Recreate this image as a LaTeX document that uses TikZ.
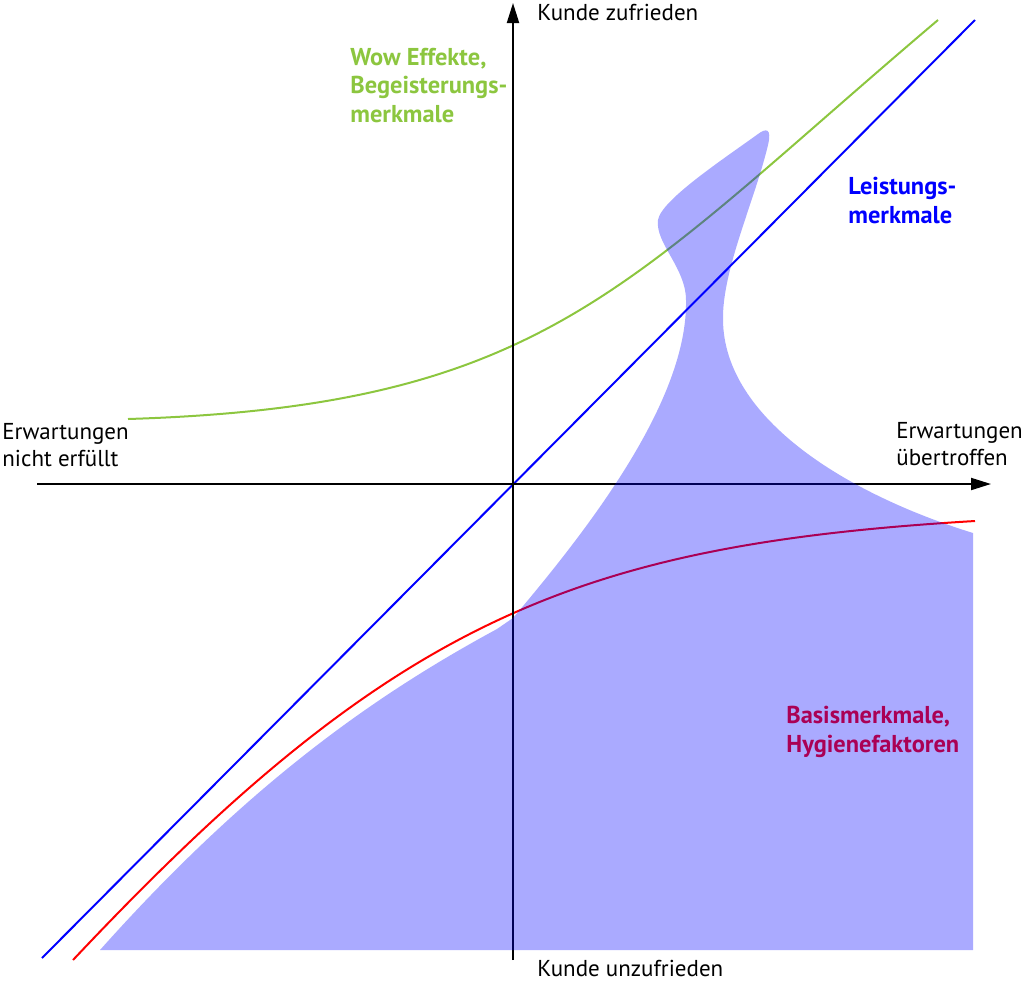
\documentclass[tikz,border=0pt]{standalone}
\usepackage{fontspec}
\setmainfont{PT Sans}
\usetikzlibrary{arrows.meta}
\definecolor{wowgreen}{RGB}{140,198,63}
\tikzset{
  axisline/.style={draw=black, line width=1pt, -{Triangle[length=10pt,width=6pt]}},
  curveline/.style={line width=1pt},
  lbl/.style={font=\fontsize{11.5}{13.5}\selectfont, align=left, anchor=base west, inner sep=0pt},
  blbl/.style={font=\bfseries\fontsize{12.2}{14.25}\selectfont, align=left, anchor=base west, inner sep=0pt},
  blobfill/.style={fill=blue, fill opacity=0.3333},
}
\begin{document}
\begin{tikzpicture}[x=0.5pt,y=-0.5pt]
\useasboundingbox (0,0) rectangle (1024,981);
% coordinates
\coordinate (xS) at (37,484);
\coordinate (xE) at (991,484);
\coordinate (yS) at (513,960);
\coordinate (yE) at (513,3);
\coordinate (blueS) at (42,958);
\coordinate (blueE) at (975,20);
\coordinate (redS) at (73,960);
\coordinate (redE) at (975,521);
\coordinate (grS) at (128,419);
\coordinate (grE) at (938,20);
% curves
\draw[curveline, blue] (blueS) -- (blueE);
\draw[curveline, red] (redS) .. controls (393,620) and (575,545) .. (redE);
\draw[curveline, wowgreen] (grS) .. controls (548,406) and (625,285) .. (grE);
% axes
\draw[axisline] (xS) -- (xE);
\draw[axisline] (yS) -- (yE);
% labels (anchor = baseline of the last line)
\node[lbl] (top) at (537,20) {Kunde zufrieden};
\node[lbl] (bottom) at (537,976) {Kunde unzufrieden};
\node[lbl] (left) at (2,466) {Erwartungen\\nicht erfüllt};
\node[lbl] (right) at (896,465) {Erwartungen\\übertroffen};
\node[blbl, text=wowgreen] (wow) at (350,122) {Wow Effekte,\\Begeisterungs-\\merkmale};
\node[blbl, text=blue] (leist) at (848,223) {Leistungs-\\merkmale};
\node[blbl, text=red] (basis) at (786,752) {Basismerkmale,\\Hygienefaktoren};
% translucent region
\fill[blobfill] (100,950) .. controls (250,782) and (377,694) .. (497,629)
  -- (513,618)
  .. controls (590,527) and (688,400) .. (686,300)
  .. controls (686,268) and (655,243) .. (658,220)
  .. controls (661,200) and (725,158) .. (758,134)
  .. controls (766,128) and (772,128) .. (768,145)
  .. controls (755,200) and (722,270) .. (723,320)
  .. controls (724,420) and (850,495) .. (973,533)
  -- (973,950) -- cycle;
\end{tikzpicture}
\end{document}
